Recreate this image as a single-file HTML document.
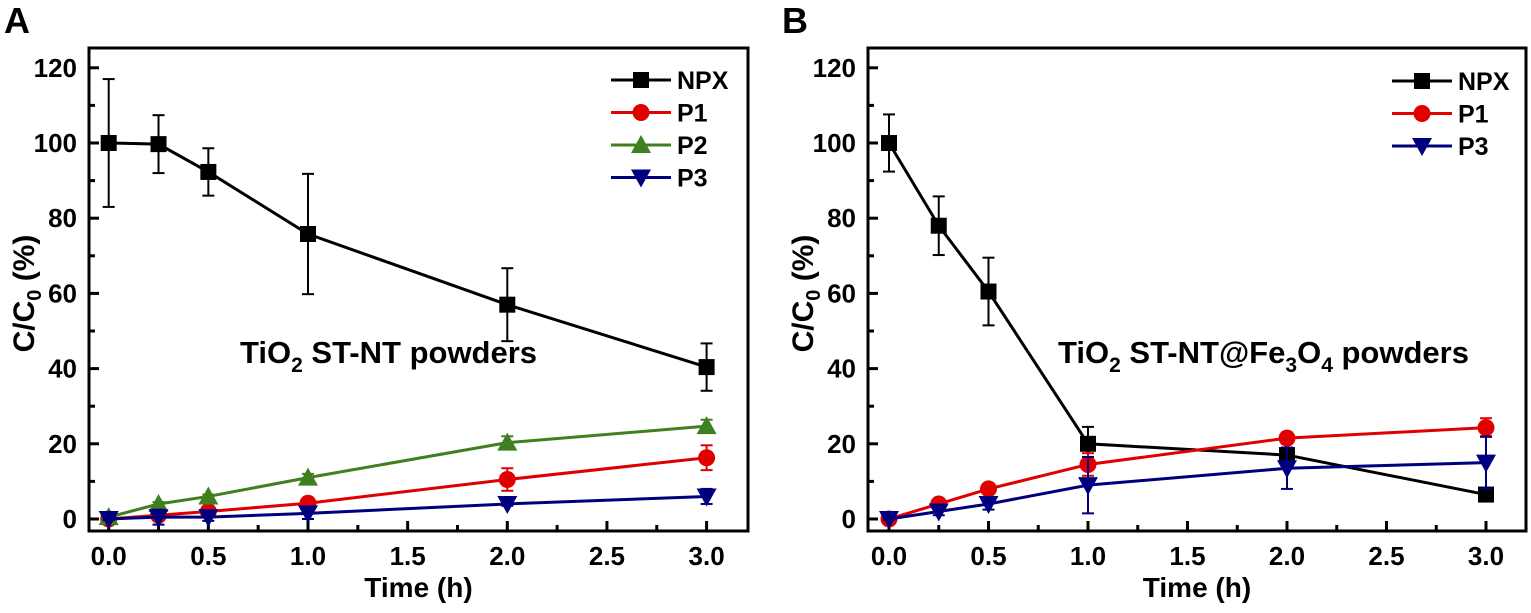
<!DOCTYPE html>
<html><head><meta charset="utf-8"><style>
body{margin:0;background:#fff;}
svg text{font-family:"Liberation Sans",Arial,sans-serif;font-weight:bold;}
</style></head><body>
<svg id="fig" width="1531" height="608" viewBox="0 0 1531 608" xmlns="http://www.w3.org/2000/svg">
<text x="4" y="33" font-size="36">A</text>
<text x="782" y="33" font-size="36">B</text>
</svg>
<script>
const times = [0, 0.25, 0.5, 1, 2, 3];
const xTicks = ["0.0","0.5","1.0","1.5","2.0","2.5","3.0"];
const yTicks = [0,20,40,60,80,100,120];
// Panel A
const aNPX = [100, 99.7, 92.3, 75.8, 57, 40.4];
const aNPXerr = [17, 7.7, 6.3, 16, 9.7, 6.3];
const aP1 = [0, 1, 2, 4.2, 10.5, 16.3];
const aP1err = [0.5, 0.8, 1, 1, 3, 3.3];
const aP2 = [0.5, 4, 6, 11, 20.3, 24.7];
const aP2err = [0.5, 0.5, 0.5, 1, 1.7, 1.7];
const aP3 = [0, 0.5, 0.5, 1.5, 4, 6];
const aP3err = [0.3, 2, 1, 1.5, 0.5, 2];
// Panel B
const bNPX = [100, 78, 60.5, 20, 17, 6.5];
const bNPXerr = [7.6, 7.8, 9, 4.5, 2, 1];
const bP1 = [0, 4, 8, 14.5, 21.5, 24.3];
const bP1err = [0.3, 0.5, 0.5, 3, 1.5, 2.5];
const bP3 = [0, 2, 4, 9, 13.5, 15];
const bP3err = [0.3, 1, 1.5, 7.5, 5.5, 7];

const NS = "http://www.w3.org/2000/svg";
const svg = document.getElementById('fig');
function mk(tag, attrs, parent){const e=document.createElementNS(NS,tag);for(const k in attrs)e.setAttribute(k,attrs[k]);(parent||svg).appendChild(e);return e;}

function marker(g, shape, cx, cy, color){
  let e;
  if(shape==='sq') e=mk('rect',{x:cx-8,y:cy-8,width:16,height:16,fill:color},g);
  else if(shape==='ci') e=mk('circle',{cx:cx,cy:cy,r:8.5,fill:color},g);
  else if(shape==='up') e=mk('polygon',{points:`${cx},${cy-10} ${cx-10},${cy+8} ${cx+10},${cy+8}`,fill:color},g);
  else e=mk('polygon',{points:`${cx},${cy+10} ${cx-10},${cy-8} ${cx+10},${cy-8}`,fill:color},g);
  return e;
}

function panel(p){
  const {L,T,R,B,x0,pxH,id}=p;
  const y0=519, pxU=3.76;
  const X=t=>x0+t*pxH, Y=v=>y0-v*pxU;
  const g=mk('g',{});
  
  
  const fr=mk('rect',{x:L,y:T,width:R-L,height:B-T,fill:'none',stroke:'#000','stroke-width':3},g);
  
  
  yTicks.forEach((v,i)=>{
    mk('line',{x1:L,x2:L+10,y1:Y(v),y2:Y(v),stroke:'#000','stroke-width':3},g);
    if(i<yTicks.length-1) mk('line',{x1:L,x2:L+6,y1:Y(v+10),y2:Y(v+10),stroke:'#000','stroke-width':3},g);
    const t=mk('text',{x:L-12,y:Y(v)+9,'font-size':26,'text-anchor':'end'},g);
    t.textContent=v;
    
    
  });
  xTicks.forEach((s,i)=>{
    const t0=i*0.5;
    mk('line',{x1:X(t0),x2:X(t0),y1:B,y2:B-10,stroke:'#000','stroke-width':3},g);
    if(i<6) mk('line',{x1:X(t0+0.25),x2:X(t0+0.25),y1:B,y2:B-6,stroke:'#000','stroke-width':3},g);
    const t=mk('text',{x:X(t0),y:565,'font-size':26,'text-anchor':'middle'},g);
    t.textContent=s;
    
    
  });
  const xt=mk('text',{x:(L+R)/2,y:597,'font-size':28,'text-anchor':'middle'},g);
  xt.textContent='Time (h)';
  
  
  const yt=mk('text',{transform:`translate(${L-55},${(T+B)/2+4}) rotate(-90)`,'font-size':30,'text-anchor':'middle'},g);
  yt.innerHTML='C/C<tspan dy="7" font-size="20">0</tspan><tspan dy="-7"> (%)</tspan>';
  
  
  p.series.forEach(s=>{
    const sg=mk('g',{},g);
    
    
    const pts=times.map((t,i)=>X(t)+','+Y(s.v[i])).join(' ');
    mk('polyline',{points:pts,fill:'none',stroke:s.c,'stroke-width':3},sg);
    times.forEach((t,i)=>{
      const cx=X(t), e=s.e[i];
      const top=Y(s.v[i]+e), bot=Y(s.v[i]-e);
      mk('line',{x1:cx,x2:cx,y1:top,y2:bot,stroke:s.c,'stroke-width':2},sg);
      mk('line',{x1:cx-6,x2:cx+6,y1:top,y2:top,stroke:s.c,'stroke-width':2},sg);
      mk('line',{x1:cx-6,x2:cx+6,y1:bot,y2:bot,stroke:s.c,'stroke-width':2},sg);
      const m=marker(sg,s.m,cx,Y(s.v[i]),s.c);
      
      
    });
  });
  p.series.forEach((s,k)=>{
    const ly=p.legY+k*p.legDy;
    const lg=mk('g',{},g);
    
    
    mk('line',{x1:p.legX,x2:p.legX+60,y1:ly,y2:ly,stroke:s.c,'stroke-width':3},lg);
    marker(lg,s.m,p.legX+30,ly,s.c);
    const t=mk('text',{x:p.legX+66,y:ly+9,'font-size':25},lg);
    t.textContent=s.name;
  });
  const an=mk('text',{x:p.annX,y:363,'font-size':31},g);
  an.innerHTML=p.ann;
  
  
}

panel({id:'panel-a',L:89,T:48,R:748,B:531,x0:108.7,pxH:199.3,legX:611,legY:80,legDy:32.5,annX:240,
  ann:'TiO<tspan dy="9" font-size="21">2</tspan><tspan dy="-9"> ST-NT powders</tspan>',
  series:[
    {name:'NPX',v:aNPX,e:aNPXerr,c:'#000',m:'sq'},
    {name:'P1',v:aP1,e:aP1err,c:'#e00000',m:'ci'},
    {name:'P2',v:aP2,e:aP2err,c:'#3f7f1f',m:'up'},
    {name:'P3',v:aP3,e:aP3err,c:'#00007f',m:'dn'}]});
panel({id:'panel-b',L:868,T:48,R:1526,B:531,x0:889,pxH:199,legX:1392,legY:81,legDy:32.5,annX:1058,
  ann:'TiO<tspan dy="9" font-size="21">2</tspan><tspan dy="-9"> ST-NT@Fe</tspan><tspan dy="9" font-size="21">3</tspan><tspan dy="-9">O</tspan><tspan dy="9" font-size="21">4</tspan><tspan dy="-9"> powders</tspan>',
  series:[
    {name:'NPX',v:bNPX,e:bNPXerr,c:'#000',m:'sq'},
    {name:'P1',v:bP1,e:bP1err,c:'#e00000',m:'ci'},
    {name:'P3',v:bP3,e:bP3err,c:'#00007f',m:'dn'}]});
</script>
</body></html>
